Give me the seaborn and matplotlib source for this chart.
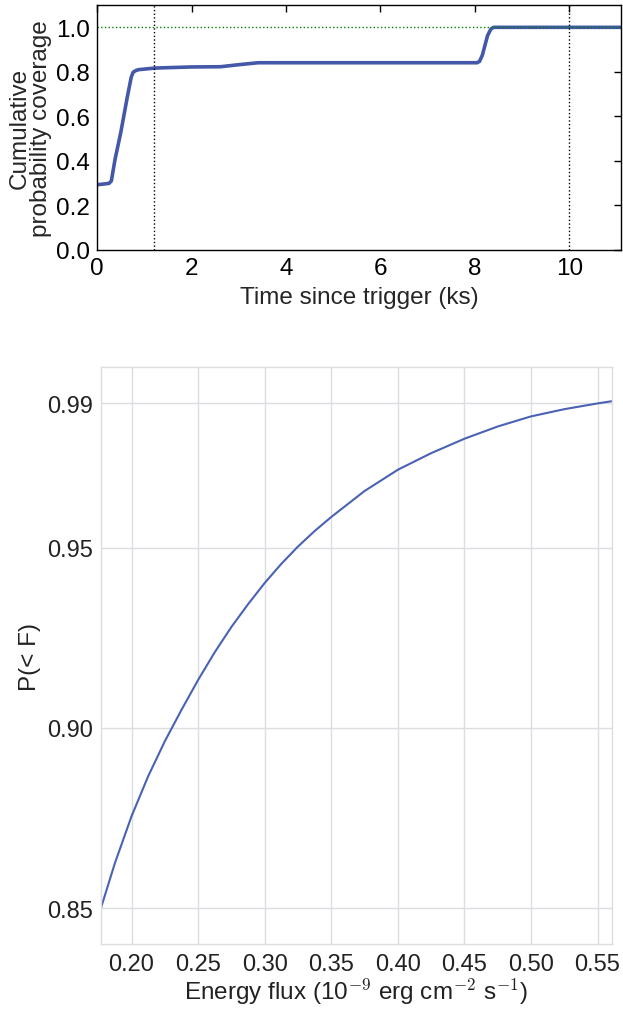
import numpy as np
import pandas as pd
import matplotlib
matplotlib.use("Agg")
import matplotlib.pyplot as plt
import seaborn as sns

# top panel: cumulative probability coverage vs time since trigger
time_ks = [0.0, 0.25, 0.30, 0.38, 0.50, 0.63, 0.72, 0.76, 0.82, 0.88, 1.22, 1.98,
           2.61, 2.99, 3.41, 8.05, 8.10, 8.16, 8.27, 8.34, 8.40, 11.1]
coverage = [0.293, 0.299, 0.31, 0.409, 0.528, 0.678, 0.775, 0.798, 0.806, 0.810,
            0.817, 0.822, 0.823, 0.832, 0.841, 0.841, 0.847, 0.875, 0.963, 0.992,
            1.0, 1.0]
vlines_ks = [1.2, 10.0]

# bottom panel: P(<F) vs energy flux
flux = [0.177, 0.1875, 0.20, 0.2125, 0.225, 0.2375, 0.25, 0.2625, 0.275, 0.2875,
        0.30, 0.3125, 0.325, 0.3375, 0.35, 0.375, 0.40, 0.425, 0.45, 0.475,
        0.50, 0.525, 0.55, 0.5605]
prob = [0.850, 0.8625, 0.8755, 0.8866, 0.8963, 0.9050, 0.9133, 0.9210, 0.9280,
        0.9343, 0.9402, 0.9455, 0.9503, 0.9546, 0.9585, 0.9657, 0.9716, 0.9762,
        0.9802, 0.9836, 0.9864, 0.9884, 0.9900, 0.9906]
prob_ticks = [0.85, 0.90, 0.95, 0.99]
flux_ticks = [0.20, 0.25, 0.30, 0.35, 0.40, 0.45, 0.50, 0.55]

sns.set_style("white")
plt.rcParams['font.family'] = ['Liberation Sans', 'DejaVu Sans']
plt.rcParams['mathtext.fontset'] = 'cm'

line_color = '#4358a8'
fig = plt.figure(figsize=(6.23, 10.12), dpi=100)

ax1 = fig.add_axes([0.156, 0.752, 0.841, 0.242])
sns.lineplot(x=time_ks, y=coverage, ax=ax1, color=line_color, linewidth=2.6)
for v in vlines_ks:
    ax1.axvline(v, color='black', linestyle=':', linewidth=1)
ax1.axhline(1.0, color='green', linestyle=':', linewidth=1)
ax1.set_xlim(0, 11.1)
ax1.set_ylim(0, 1.1)
ax1.set_xticks([0, 2, 4, 6, 8, 10])
ax1.set_yticks([0.0, 0.2, 0.4, 0.6, 0.8, 1.0])
ax1.set_yticklabels(['0.0', '0.2', '0.4', '0.6', '0.8', '1.0'])
for s in ax1.spines.values():
    s.set_color('black')
    s.set_linewidth(1)
ax1.tick_params(direction='in', top=True, right=True, length=5, width=1,
                labelsize=17.5, colors='black', pad=5)
ax1.set_xlabel('Time since trigger (ks)', fontsize=17.5, labelpad=5)
ax1.set_ylabel('Cumulative\nprobability coverage', fontsize=17.5, labelpad=3,
               linespacing=0.95)

ax2 = fig.add_axes([0.162, 0.066, 0.820, 0.570])
sns.lineplot(x=flux, y=prob, ax=ax2, color='#4a62b4', linewidth=1.5)
ax2.set_xlim(0.177, 0.5607)
ax2.set_ylim(0.84, 1.0)
ax2.set_xticks(flux_ticks)
ax2.set_xticklabels(['%.2f' % t for t in flux_ticks])
ax2.set_yticks(prob_ticks)
ax2.set_yticklabels(['%.2f' % t for t in prob_ticks])
ax2.grid(True, color='#dcdde3', linewidth=1)
for s in ax2.spines.values():
    s.set_color('#dcdde3')
    s.set_linewidth(1)
ax2.tick_params(length=0, labelsize=17, colors='#222222', pad=6)
ax2.set_xlabel(r'Energy flux (10$^{-9}$ erg cm$^{-2}$ s$^{-1}$)', fontsize=17.5,
               color='#222222', labelpad=1)
ax2.set_ylabel('P(< F)', fontsize=17.5, color='#222222', labelpad=4)

fig.savefig('out.png', dpi=100)
